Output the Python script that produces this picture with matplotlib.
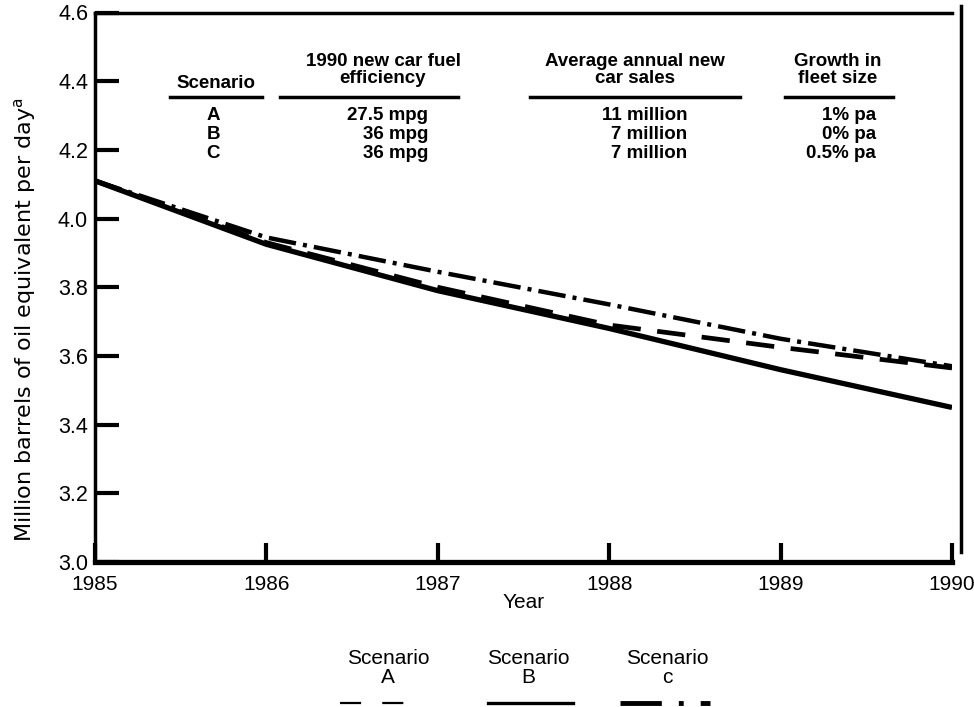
import matplotlib
matplotlib.use("Agg")
import matplotlib.pyplot as plt
from matplotlib.lines import Line2D

plt.rcParams['font.family'] = ['Liberation Sans', 'DejaVu Sans']

years = [1985, 1986, 1987, 1988, 1989, 1990]
scen_a = [4.11, 3.93, 3.80, 3.69, 3.625, 3.565]   # dashed
scen_b = [4.11, 3.925, 3.79, 3.68, 3.56, 3.45]    # solid
scen_c = [4.11, 3.945, 3.845, 3.75, 3.65, 3.57]   # dash-dot

yticks = [3.0, 3.2, 3.4, 3.6, 3.8, 4.0, 4.2, 4.4, 4.6]
xticks = [1985, 1986, 1987, 1988, 1989, 1990]

tbl_headers = ["Scenario", "1990 new car fuel\nefficiency", "Average annual new\ncar sales", "Growth in\nfleet size"]
tbl_scen = ["A", "B", "C"]
tbl_mpg = ["27.5 mpg", "36 mpg", "36 mpg"]
tbl_sales = ["11 million", "7 million", "7 million"]
tbl_growth = ["1% pa", "0% pa", "0.5% pa"]

W, H = 974, 707
fig = plt.figure(figsize=(W/100, H/100), dpi=100)
ax = fig.add_axes([95/W, 1-562/H, (952-95)/W, (562-12.5)/H])
ax.set_xlim(1985, 1990)
ax.set_ylim(3.0, 4.6)

ax.plot(years, scen_b, color='black', lw=3.8, solid_capstyle='butt')
ax.plot(years, scen_a, color='black', lw=3.4, dashes=(6, 3.5))
ax.plot(years, scen_c, color='black', lw=3.2, dashes=(6.2, 1.6, 0.9, 1.6))

for s in ['left', 'bottom', 'top']:
    ax.spines[s].set_linewidth(2.5)
ax.spines['bottom'].set_linewidth(3.8)
ax.spines['right'].set_visible(False)
# detached right frame line
ax.add_line(Line2D([1990.055, 1990.055], [3.03, 4.62], color='black', lw=2.5, clip_on=False))

ax.set_yticks(yticks)
ax.set_yticklabels([f"{v:.1f}" for v in yticks], fontsize=15.5)
ax.set_xticks(xticks)
ax.set_xticklabels([str(v) for v in xticks], fontsize=15)
ax.tick_params(axis='y', direction='in', length=17, width=3, pad=5)
ax.tick_params(axis='x', direction='in', length=14, width=3, pad=9)

ax.set_ylabel("Million barrels of oil equivalent per day$^{\\mathrm{a}}$", fontsize=16,
              family=['DejaVu Sans'])
ax.yaxis.set_label_coords(-0.067, (562-320)/549.5)
ax.set_xlabel("Year", fontsize=15, labelpad=0)

# table in axes data coords (x in pixels -> data)
def px2x(px):
    return 1985 + (px - 95) / (952 - 95) * 5
def py2y(py):
    return 4.6 - (py - 12.5) / (562 - 12.5) * 1.6

tfs = 13.5
hdr_x = [216, 383, 635, 838]
for hx, htxt in zip(hdr_x, tbl_headers):
    yy = 83 if htxt == "Scenario" else 70
    ax.text(px2x(hx), py2y(yy), htxt, ha='center', va='center', fontsize=tfs,
            fontweight='bold', linespacing=1.05)
ul = [(170, 262), (280, 458), (530, 740), (785, 893)]
for x0, x1 in ul:
    ax.plot([px2x(x0), px2x(x1)], [py2y(97), py2y(97)], color='black', lw=2.5)
rows_y = [115, 134, 153]
for ry, s, m, sl, g in zip(rows_y, tbl_scen, tbl_mpg, tbl_sales, tbl_growth):
    ax.text(px2x(213), py2y(ry), s, ha='center', va='center', fontsize=tfs, fontweight='bold')
    ax.text(px2x(428), py2y(ry), m, ha='right', va='center', fontsize=tfs, fontweight='bold')
    ax.text(px2x(687), py2y(ry), sl, ha='right', va='center', fontsize=tfs, fontweight='bold')
    ax.text(px2x(876), py2y(ry), g, ha='right', va='center', fontsize=tfs, fontweight='bold')

# legend below
leg_labels = ["Scenario\nA", "Scenario\nB", "Scenario\nc"]
leg_x = [388, 528, 667]
for lx, lt in zip(leg_x, leg_labels):
    fig.text(lx/W, 1-668/H, lt, ha='center', va='center', fontsize=15, linespacing=1.0)
fig.add_artist(Line2D([340/W, 405/W], [1-703/H, 1-703/H], color='black', lw=1.6, dashes=(9.5, 9.5)))
fig.add_artist(Line2D([488/W, 573/W], [1-703/H, 1-703/H], color='black', lw=2.4))
fig.add_artist(Line2D([620/W, 710/W], [1-703/H, 1-703/H], color='black', lw=3.5, dashes=(8.5, 3.5, 1, 3.5)))

fig.savefig("out.png", dpi=100)
